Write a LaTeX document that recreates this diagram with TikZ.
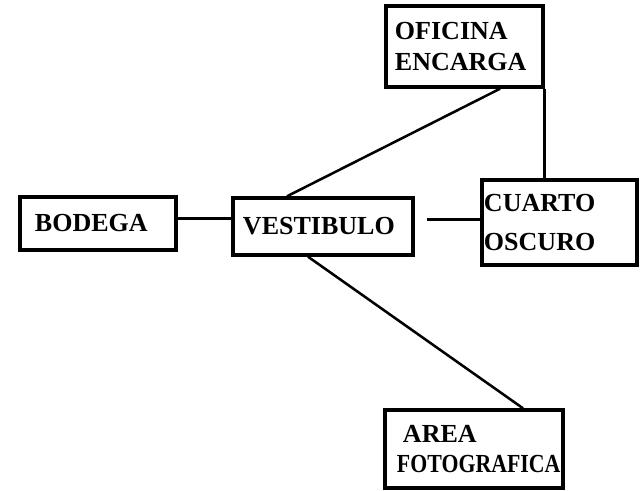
\documentclass[tikz,border=0pt]{standalone}
\usepackage{fontspec}
\setmainfont{Liberation Serif}
\usepackage{graphicx}
\begin{document}
\begin{tikzpicture}[x=0.025cm,y=-0.025cm,
  room/.style={draw,line width=2.4pt,align=left,inner ysep=0pt,
    font=\bfseries\fontsize{18.5}{21.5}\selectfont},
  link/.style={line width=1.8pt}]
\useasboundingbox (0,0) rectangle (643,491);

\node[room,text width=3.475cm,inner xsep=0.225cm,minimum height=2.025cm] (ofi) at (464.5,46.5) {OFICINA\\ENCARGA};

\node[room,text width=3.15cm,inner xsep=0.375cm,minimum height=1.325cm] (bod) at (98,223.5) {BODEGA};
\node[room,text width=4cm,inner xsep=0.25cm,minimum height=1.425cm] (vest) at (323,226.5) {VESTIBULO};
\node[room,text width=3.775cm,inner xsep=0.05cm,minimum height=2.125cm,
  font=\bfseries\fontsize{18.5}{27.5}\selectfont] (cuarto) at (559.5,222.5) {CUARTO\\OSCURO};

\node[room,text width=3.85cm,inner xsep=0.3cm,minimum height=1.95cm] (area) at (474,449) {\hspace{0.15cm}AREA\\\scalebox{0.84}[1]{FOTOGRAFICA}};

\draw[link] ([yshift=0.125cm]bod.east) -- ([yshift=0.125cm]vest.west |- bod.east);
\draw[link] ([xshift=0.3cm,yshift=0.075cm]vest.east |- cuarto.west) -- ([yshift=0.075cm]cuarto.west);
\draw[link] ([xshift=-0.9cm]vest.north) -- ([xshift=0.89cm]ofi.south);
\draw[link] (ofi.south east) -- (ofi.south east |- cuarto.north);
\draw[link] ([xshift=-0.375cm]vest.south) -- ([xshift=1.225cm]area.north);
\end{tikzpicture}
\end{document}
